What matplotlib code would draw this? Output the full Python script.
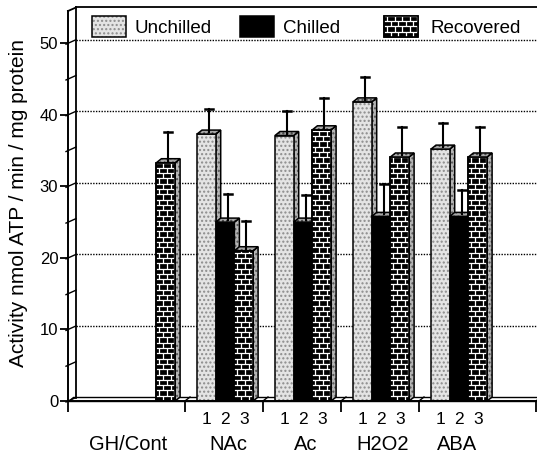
import numpy as np
import matplotlib
matplotlib.use("Agg")
import matplotlib.pyplot as plt
from matplotlib.patches import Rectangle, Polygon
from matplotlib.collections import LineCollection

plt.rcParams['font.family'] = ['Liberation Sans', 'DejaVu Sans']

# data
groups = ["GH/Cont", "NAc", "Ac", "H2O2", "ABA"]
series = ["Unchilled", "Chilled", "Recovered"]
unchilled = [0.0, 37.3, 37.1, 41.8, 35.2]
chilled = [0.0, 25.0, 25.0, 25.8, 25.8]
recovered = [33.3, 21.0, 37.9, 34.1, 34.1]
unchilled_err = [0.0, 3.2, 3.2, 3.2, 3.4]
chilled_err = [0.0, 3.7, 3.5, 4.2, 3.4]
recovered_err = [4.0, 3.9, 4.2, 3.9, 3.9]
bar_numbers = ["1", "2", "3"]
y_major = [0, 10, 20, 30, 40, 50]
y_minor = [5, 15, 25, 35, 45]

W, H = 537, 459
fig = plt.figure(figsize=(W / 100, H / 100), dpi=100)

# axes box in pixels
AX_L, AX_R, AX_B, AX_T = 68, 536, 401, 11
ax = fig.add_axes([AX_L / W, 1 - AX_B / H, (AX_R - AX_L) / W, (AX_B - AX_T) / H])
XMIN, XMAX, YMIN, YMAX = -1, 5, 0, 54.5
ax.set_xlim(XMIN, XMAX)
ax.set_ylim(YMIN, YMAX)
sx = (AX_R - AX_L) / (XMAX - XMIN)
sy = (AX_B - AX_T) / (YMAX - YMIN)


def px(d):
    return d / sx


def py(d):
    return d / sy


def X(p):
    return XMIN + (p - AX_L) / sx


def Y(p):
    return (AX_B - p) / sy


# 3d offsets
bdx, bdy = px(5), py(4)      # bar depth
wdx, wdy = px(8), py(3.5)    # back wall
BAR_W = px(18.7)
BAR_OFF = px(-27)

for s in ["top", "right"]:
    ax.spines[s].set_visible(False)
ax.spines["left"].set_linewidth(1.4)
ax.spines["bottom"].set_linewidth(1.4)

ax.set_yticks(y_major)
ax.set_yticklabels([str(v) for v in y_major], fontsize=12)
ax.tick_params(axis="y", direction="out", length=6, width=1.3, pad=1)
ax.set_xticks([XMIN, 0.5, 1.5, 2.5, 3.5, XMAX])
ax.set_xticklabels([])
ax.tick_params(axis="x", direction="out", length=8, width=1.3)

# back wall
kw = dict(color="black", lw=1.3, clip_on=False)
ax.plot([XMIN + wdx, XMIN + wdx], [wdy, YMAX + wdy], **kw)
ax.plot([XMIN + wdx, XMAX + 1], [YMAX + wdy, YMAX + wdy], **kw)
ax.plot([XMIN, XMIN + wdx], [YMAX, YMAX + wdy], **kw)
for v in y_major[1:]:
    ax.plot([XMIN + wdx, XMAX + 1], [v + wdy, v + wdy], color="black", lw=1.0,
            ls=(0, (1, 1)), clip_on=False, zorder=0.5)
for v in y_major + y_minor:
    ax.plot([XMIN - px(2), XMIN + wdx], [v - py(1), v + wdy], color="black", lw=1.0,
            clip_on=False)

# floor slab
floor = Polygon([(XMIN, 0), (XMAX + 1, 0), (XMAX + 1, bdy), (XMIN + bdx, bdy)],
                closed=True, facecolor="white", edgecolor="black", lw=1.0,
                clip_on=False, zorder=0.8)
ax.add_patch(floor)
for t in [0.5, 1.5, 2.5, 3.5, XMAX]:
    ax.plot([t, t + bdx], [0, bdy], color="black", lw=1.0, clip_on=False, zorder=0.9)


def stipple(poly, face, dots):
    ax.add_patch(Polygon(poly, closed=True, facecolor=face, edgecolor=dots,
                         hatch="....", lw=0, zorder=1, clip_on=False))
    ax.add_patch(Polygon(poly, closed=True, fill=False, edgecolor="black",
                         lw=1.1, zorder=1, clip_on=False))


def bricks(x0, y0, w, h):
    rect = Rectangle((x0, y0), w, h, facecolor="black", edgecolor="black",
                     lw=1.1, zorder=1, clip_on=False)
    ax.add_patch(rect)
    row_h, brick_w = py(5.3), px(7.5)
    segs = []
    yy, row = y0, 0
    while yy < y0 + h:
        segs.append([(x0, yy + row_h), (x0 + w, yy + row_h)])
        xx = x0 + (brick_w * 0.4 if row % 2 else brick_w * 0.9)
        while xx < x0 + w:
            segs.append([(xx, yy), (xx, yy + row_h)])
            xx += brick_w
        yy += row_h
        row += 1
    lc = LineCollection(segs, colors="white", linewidths=0.9, zorder=1)
    ax.add_collection(lc)
    lc.set_clip_path(rect)
    ax.add_patch(Rectangle((x0, y0), w, h, fill=False, edgecolor="black",
                           lw=1.2, zorder=1, clip_on=False))


def front(kind, x0, v):
    if kind == 0:
        stipple([(x0, 0), (x0 + BAR_W, 0), (x0 + BAR_W, v), (x0, v)], "#e4e4e4", "#8c8c8c")
    elif kind == 1:
        ax.add_patch(Rectangle((x0, 0), BAR_W, v, facecolor="black",
                               edgecolor="black", lw=1.1, zorder=1))
    else:
        bricks(x0, 0, BAR_W, v)


values = [unchilled, chilled, recovered]
errors = [unchilled_err, chilled_err, recovered_err]
for g in range(len(groups)):
    for k in range(3):
        v = values[k][g]
        if g == 0 and v == 0:
            continue
        x0 = g + BAR_OFF + k * BAR_W
        x1 = x0 + BAR_W
        # side face
        stipple([(x1, 0), (x1 + bdx, bdy), (x1 + bdx, v + bdy), (x1, v)], "#b5b5b5", "#555555")
        front(k, x0, v)
        # top face
        stipple([(x0, v), (x0 + bdx, v + bdy), (x1 + bdx, v + bdy), (x1, v)], "#a8a8a8", "#444444")
        e = errors[k][g]
        if e > 0:
            xc = x0 + BAR_W / 2 + bdx / 2
            yb = v + bdy / 2
            ax.plot([xc, xc], [yb, yb + e], color="black", lw=1.5, zorder=2)
            ax.plot([xc - px(4), xc + px(4)], [yb + e, yb + e], color="black",
                    lw=1.8, zorder=2)

# bar numbers and group labels
for g in range(1, len(groups)):
    for k in range(3):
        ax.text(g + BAR_OFF + (k + 0.5) * BAR_W, Y(420), bar_numbers[k],
                ha="center", va="center", fontsize=12.5, clip_on=False)
label_x = [X(128), 1.06, 2.05, 3.04, 3.99]
for g, name in enumerate(groups):
    ax.text(label_x[g], Y(445), name, ha="center", va="center", fontsize=14.5,
            clip_on=False)

fig.text(19 / W, 1 - 203 / H, "Activity nmol ATP / min / mg protein",
         rotation=90, ha="center", va="center", fontsize=15)

# legend drawn as in the figure
leg_boxes = [92, 240, 384]
leg_text = [135, 283, 430]
for k in range(3):
    bx0, bx1 = X(leg_boxes[k]), X(leg_boxes[k] + 34)
    by0, by1 = Y(37), Y(16)
    if k == 0:
        stipple([(bx0, by0), (bx1, by0), (bx1, by1), (bx0, by1)], "#e4e4e4", "#8c8c8c")
    elif k == 1:
        ax.add_patch(Rectangle((bx0, by0), bx1 - bx0, by1 - by0, facecolor="black",
                               edgecolor="black", lw=1.1, zorder=1, clip_on=False))
    else:
        bricks(bx0, by0, bx1 - bx0, by1 - by0)
    ax.text(X(leg_text[k]), Y(29), series[k], ha="left", va="center",
            fontsize=13.5, clip_on=False)

fig.savefig("out.png", dpi=100)
